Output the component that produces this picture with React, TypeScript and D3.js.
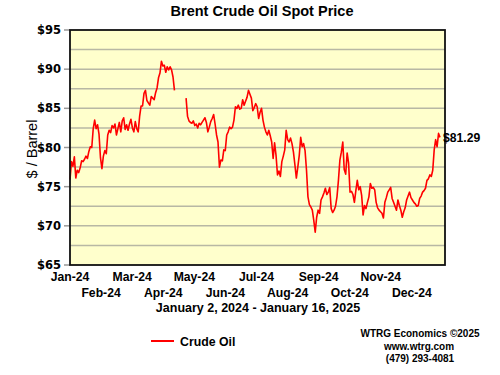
import React from 'react';
import * as d3 from 'd3';

// Brent daily spot, Jan 2 2024 - Jan 16 2025 (null = missing days)
const prices: (number | null)[] = [
  75.9, 78.2, 77.6, 78.8, 76.1, 77.1, 76.8, 77.4, 78.3, 78.2,
  78.5, 78.9, 78.6, 79.5, 80.1, 80.0, 82.4, 83.5, 82.4, 82.9,
  81.7, 78.7, 77.3, 78.9, 79.6, 79.2, 81.6, 82.2, 81.9, 82.8,
  82.5, 83.0, 81.6, 82.4, 83.2, 82.0, 83.4, 83.8, 82.3, 82.9,
  82.2, 83.0, 83.6, 82.5, 82.0, 83.3, 82.4, 82.0, 84.0, 85.3,
  85.3, 86.9, 87.3, 86.0, 85.7, 85.4, 86.5, 86.3, 86.1, 87.0,
  87.6, 88.9, 89.5, 91.0, 90.4, 90.5, 89.6, 90.3, 89.9, 90.3,
  89.9, 89.0, 87.3, null, null, null, null, null, null, null,
  86.3, 84.0, 83.4, 83.2, 83.1, 83.4, 82.8, 83.0, 82.5, 83.1,
  82.9, 83.2, 83.5, 83.8, 83.2, 82.0, 82.6, 83.3, 83.7, 84.2,
  83.0, 81.6, 80.7, 77.5, 78.4, 78.3, 79.7, 79.6, 81.6, 82.0,
  82.6, 82.4, 82.6, 83.5, 85.2, 85.0, 85.4, 84.9, 85.0, 86.1,
  85.4, 85.9, 86.4, 87.3, 86.8, 86.3, 84.7, 85.1, 85.6, 85.2,
  83.7, 84.5, 85.0, 83.5, 82.6, 82.0, 81.6, 82.2, 81.5, 80.7,
  78.6, 80.6, 79.0, 76.5, 77.0, 76.3, 78.2, 78.9, 79.7, 82.2,
  81.0, 80.7, 81.2, 80.5, 79.4, 77.8, 76.1, 77.5, 79.0, 81.3,
  80.1, 80.5, 79.6, 77.1, 73.7, 72.7, 72.4, 72.0, 70.7, 69.2,
  71.1, 72.0, 71.6, 73.3, 73.7, 74.2, 74.8, 74.0, 74.3, 74.9,
  72.2, 71.7, 72.0, 72.5, 73.7, 75.8, 78.4, 79.4, 80.7, 77.2,
  76.6, 79.3, 78.0, 74.3, 74.4, 74.0, 73.0, 74.5, 75.8, 74.6,
  75.0, 73.9, 71.4, 72.6, 72.2, 73.0, 73.7, 75.4, 74.8, 74.9,
  74.6, 73.0, 72.3, 72.0, 71.8, 71.6, 71.0, 73.0, 73.6, 74.3,
  74.6, 74.9, 73.5, 73.0, 72.5, 72.0, 73.3, 72.6, 72.0, 71.1,
  71.8, 72.3, 73.3, 73.8, 74.3, 73.6, 73.3, 73.0, 72.8, 72.5,
  72.6, 73.5, 73.8, 74.3, 74.5, 74.8, 75.8, 76.0, 76.5, 76.3,
  77.1, 79.7, 81.0, 80.1, 81.8, 81.29,
];

const months = ['Jan-24', 'Feb-24', 'Mar-24', 'Apr-24', 'May-24', 'Jun-24',
  'Jul-24', 'Aug-24', 'Sep-24', 'Oct-24', 'Nov-24', 'Dec-24'];
const yLabels = [65, 70, 75, 80, 85, 90, 95];
const yGrid = [67.5, 70, 72.5, 75, 77.5, 80, 82.5, 85, 87.5, 90, 92.5];

const plot = { left: 70, right: 445, top: 30, bottom: 265 };
const bold = "'Liberation Sans', Arial, sans-serif";

export default function App() {
  const x = d3.scaleLinear().domain([0, prices.length - 1]).range([70, 440]);
  const xm = d3.scaleLinear().domain([0, 12]).range([70, 443]);
  const y = d3.scaleLinear().domain([65, 95]).range([plot.bottom, plot.top]);

  const line = d3.line<number | null>()
    .defined(d => d !== null)
    .x((d, i) => x(i))
    .y(d => y(d as number));

  const last = prices[prices.length - 1] as number;

  return (
    <div style={{ position: 'absolute', left: 0, top: 0 }}>
      <svg width={500} height={375} style={{ display: 'block', background: '#fff' }}>
        <text x={262} y={16} textAnchor="middle" fontFamily={bold} fontWeight="bold" fontSize={14.5}>
          Brent Crude Oil Spot Price
        </text>

        <rect x={plot.left} y={plot.top} width={plot.right - plot.left} height={plot.bottom - plot.top} fill="#ffffcc" />
        {yGrid.map(v => (
          <line key={v} x1={plot.left} x2={plot.right} y1={y(v)} y2={y(v)} stroke="#b8b8a4" strokeWidth={1.5} />
        ))}
        {yLabels.map(v => (
          <g key={v}>
            <line x1={64} x2={plot.left} y1={y(v)} y2={y(v)} stroke="#999" strokeWidth={1.5} />
            <text x={61} y={y(v)} dy="0.36em" textAnchor="end" fontFamily="'DejaVu Sans', sans-serif" fontWeight="bold" fontSize={11.5}>
              ${v}
            </text>
          </g>
        ))}

        <path d={line(prices) || ''} fill="none" stroke="#ff0000" strokeWidth={1.6} strokeLinejoin="round" />

        <rect x={plot.left} y={plot.top} width={plot.right - plot.left} height={plot.bottom - plot.top} fill="none" stroke="#111" strokeWidth={1.8} />

        <text x={x(prices.length - 1) + 3} y={y(last)} dy="0.36em" fontFamily={bold} fontWeight="bold" fontSize={12.2}>
          ${last.toFixed(2)}
        </text>

        {months.map((m, i) => (
          <text key={m} x={xm(i)} y={i % 2 === 0 ? 281 : 296.5} textAnchor="middle" fontFamily={bold} fontWeight="bold" fontSize={12.2}>
            {m}
          </text>
        ))}
        <text x={258} y={311.5} textAnchor="middle" fontFamily={bold} fontWeight="bold" fontSize={12.5}>
          January 2, 2024 - January 16, 2025
        </text>

        <text transform="translate(37,149) rotate(-90)" textAnchor="middle" fontFamily="'Liberation Sans', Arial, sans-serif" fontSize={14.5}>
          $ / Barrel
        </text>

        <line x1={151} x2={174} y1={341} y2={341} stroke="#ff0000" strokeWidth={2} />
        <text x={180} y={346} fontFamily={bold} fontWeight="bold" fontSize={12.3}>Crude Oil</text>

        <text x={420} y={336.5} textAnchor="middle" fontFamily={bold} fontWeight="bold" fontSize={10}>WTRG Economics ©2025</text>
        <text x={419} y={350} textAnchor="middle" fontFamily={bold} fontWeight="bold" fontSize={10}>www.wtrg.com</text>
        <text x={420} y={361.5} textAnchor="middle" fontFamily={bold} fontWeight="bold" fontSize={10}>(479) 293-4081</text>
      </svg>
    </div>
  );
}
